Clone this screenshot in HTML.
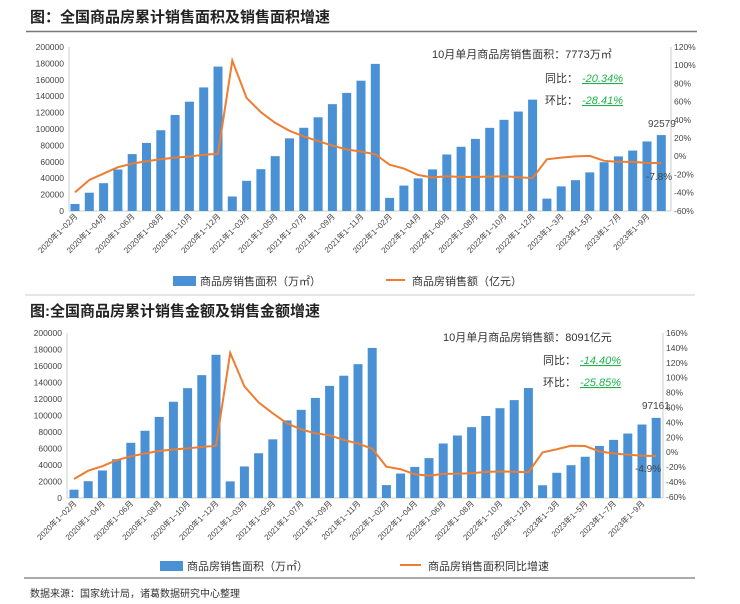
<!DOCTYPE html>
<html><head><meta charset="utf-8"><style>
body{margin:0;background:#fff;}
svg{display:block;font-family:"Liberation Sans","Noto Sans CJK SC",sans-serif;}
.t{font-size:8.5px;fill:#444;}
.xl{font-size:8px;fill:#444;}
.ti{font-size:15px;font-weight:bold;fill:#222;}
.an{font-size:11px;fill:#333;}
.gr{font-size:11px;fill:#1db34a;font-style:italic;}
.lg{font-size:11px;fill:#333;}
</style></head><body>
<svg id="s" width="740" height="604" viewBox="0 0 740 604">
<rect width="740" height="604" fill="#fff"/>
<text class="ti" x="30" y="22">图：全国商品房累计销售面积及销售面积增速</text>
<line x1="26" y1="31.5" x2="697" y2="31.5" stroke="#777" stroke-width="1.5"/>
<line x1="25" y1="295" x2="695" y2="295" stroke="#ccc" stroke-width="1"/>
<text class="ti" x="30" y="316">图:全国商品房累计销售金额及销售金额增速</text>
<line x1="24" y1="578" x2="695" y2="578" stroke="#777" stroke-width="1.2"/>
<text x="30" y="597" style="font-size:10px;fill:#333">数据来源：国家统计局，诸葛数据研究中心整理</text>

<line x1="69" y1="47" x2="69" y2="211" stroke="#ccc"/>
<line x1="69" y1="211" x2="671" y2="211" stroke="#ccc"/>
<line x1="671" y1="47" x2="671" y2="211" stroke="#ccc"/>
<g class="t" text-anchor="end">
<text x="64" y="50">200000</text><text x="64" y="66.4">180000</text><text x="64" y="82.8">160000</text><text x="64" y="99.2">140000</text><text x="64" y="115.6">120000</text><text x="64" y="132">100000</text><text x="64" y="148.4">80000</text><text x="64" y="164.8">60000</text><text x="64" y="181.2">40000</text><text x="64" y="197.6">20000</text><text x="64" y="214">0</text>
</g>
<g class="t">
<text x="674" y="50">120%</text><text x="674" y="68.2">100%</text><text x="674" y="86.4">80%</text><text x="674" y="104.6">60%</text><text x="674" y="122.8">40%</text><text x="674" y="141">20%</text><text x="674" y="159.2">0%</text><text x="674" y="177.4">-20%</text><text x="674" y="195.6">-40%</text><text x="674" y="213.8">-60%</text>
</g>
<g id="b1"></g>
<g class="xl" text-anchor="end">
<text transform="translate(78,217) rotate(-45)">2020年1~02月</text>
<text transform="translate(106.6,217) rotate(-45)">2020年1~04月</text>
<text transform="translate(135.2,217) rotate(-45)">2020年1~06月</text>
<text transform="translate(163.8,217) rotate(-45)">2020年1~08月</text>
<text transform="translate(192.4,217) rotate(-45)">2020年1~10月</text>
<text transform="translate(221,217) rotate(-45)">2020年1~12月</text>
<text transform="translate(249.6,217) rotate(-45)">2021年1~03月</text>
<text transform="translate(278.2,217) rotate(-45)">2021年1~05月</text>
<text transform="translate(306.8,217) rotate(-45)">2021年1~07月</text>
<text transform="translate(335.4,217) rotate(-45)">2021年1~09月</text>
<text transform="translate(364,217) rotate(-45)">2021年1~11月</text>
<text transform="translate(392.6,217) rotate(-45)">2022年1~02月</text>
<text transform="translate(421.2,217) rotate(-45)">2022年1~04月</text>
<text transform="translate(449.8,217) rotate(-45)">2022年1~06月</text>
<text transform="translate(478.4,217) rotate(-45)">2022年1~08月</text>
<text transform="translate(507,217) rotate(-45)">2022年1~10月</text>
<text transform="translate(535.6,217) rotate(-45)">2022年1~12月</text>
<text transform="translate(564.2,217) rotate(-45)">2023年1~3月</text>
<text transform="translate(592.8,217) rotate(-45)">2023年1~5月</text>
<text transform="translate(621.4,217) rotate(-45)">2023年1~7月</text>
<text transform="translate(650,217) rotate(-45)">2023年1~9月</text>
</g>
<text class="an" x="432" y="58">10月单月商品房销售面积：7773万㎡</text>
<text class="an" x="545" y="82">同比：</text>
<text class="gr" x="582" y="82" text-decoration="underline">-20.34%</text>
<text class="an" x="545" y="104">环比：</text>
<text class="gr" x="582" y="104" text-decoration="underline">-28.41%</text>
<text class="t" x="648" y="127" style="font-size:10px">92579</text>
<text class="t" x="646" y="180" style="font-size:10px">-7.8%</text>
<rect x="173" y="276" width="23" height="10" fill="#4a90d4"/>
<text class="lg" x="200" y="285">商品房销售面积（万㎡）</text>
<line x1="386" y1="280" x2="405" y2="280" stroke="#ed7d31" stroke-width="2"/>
<text class="lg" x="412" y="285">商品房销售额（亿元）</text>

<line x1="67" y1="333" x2="67" y2="498" stroke="#ccc"/>
<line x1="67" y1="498" x2="663" y2="498" stroke="#ccc"/>
<line x1="663" y1="333" x2="663" y2="498" stroke="#ccc"/>
<g class="t" text-anchor="end">
<text x="62" y="336">200000</text><text x="62" y="352.5">180000</text><text x="62" y="369">160000</text><text x="62" y="385.5">140000</text><text x="62" y="402">120000</text><text x="62" y="418.5">100000</text><text x="62" y="435">80000</text><text x="62" y="451.5">60000</text><text x="62" y="468">40000</text><text x="62" y="484.5">20000</text><text x="62" y="501">0</text>
</g>
<g class="t">
<text x="666" y="336">160%</text><text x="666" y="350.9">140%</text><text x="666" y="365.8">120%</text><text x="666" y="380.7">100%</text><text x="666" y="395.6">80%</text><text x="666" y="410.5">60%</text><text x="666" y="425.4">40%</text><text x="666" y="440.3">20%</text><text x="666" y="455.2">0%</text><text x="666" y="470.1">-20%</text><text x="666" y="485">-40%</text><text x="666" y="499.9">-60%</text>
</g>
<g id="b2"></g>
<g class="xl" text-anchor="end">
<text transform="translate(77,504) rotate(-45)">2020年1~02月</text>
<text transform="translate(105.4,504) rotate(-45)">2020年1~04月</text>
<text transform="translate(133.8,504) rotate(-45)">2020年1~06月</text>
<text transform="translate(162.2,504) rotate(-45)">2020年1~08月</text>
<text transform="translate(190.6,504) rotate(-45)">2020年1~10月</text>
<text transform="translate(219,504) rotate(-45)">2020年1~12月</text>
<text transform="translate(247.4,504) rotate(-45)">2021年1~03月</text>
<text transform="translate(275.8,504) rotate(-45)">2021年1~05月</text>
<text transform="translate(304.2,504) rotate(-45)">2021年1~07月</text>
<text transform="translate(332.6,504) rotate(-45)">2021年1~09月</text>
<text transform="translate(361,504) rotate(-45)">2021年1~11月</text>
<text transform="translate(389.4,504) rotate(-45)">2022年1~02月</text>
<text transform="translate(417.8,504) rotate(-45)">2022年1~04月</text>
<text transform="translate(446.2,504) rotate(-45)">2022年1~06月</text>
<text transform="translate(474.6,504) rotate(-45)">2022年1~08月</text>
<text transform="translate(503,504) rotate(-45)">2022年1~10月</text>
<text transform="translate(531.4,504) rotate(-45)">2022年1~12月</text>
<text transform="translate(559.8,504) rotate(-45)">2023年1~3月</text>
<text transform="translate(588.2,504) rotate(-45)">2023年1~5月</text>
<text transform="translate(616.6,504) rotate(-45)">2023年1~7月</text>
<text transform="translate(645,504) rotate(-45)">2023年1~9月</text>
</g>
<text class="an" x="443" y="341">10月单月商品房销售额：8091亿元</text>
<text class="an" x="543" y="364">同比：</text>
<text class="gr" x="580" y="364" text-decoration="underline">-14.40%</text>
<text class="an" x="543" y="386">环比：</text>
<text class="gr" x="580" y="386" text-decoration="underline">-25.85%</text>
<text class="t" x="642" y="409" style="font-size:10px">97161</text>
<text class="t" x="635" y="472" style="font-size:10px">-4.9%</text>
<rect x="160" y="561" width="23" height="10" fill="#4a90d4"/>
<text class="lg" x="187" y="570">商品房销售面积（万㎡）</text>
<line x1="400" y1="565" x2="421" y2="565" stroke="#ed7d31" stroke-width="2"/>
<text class="lg" x="428" y="570">商品房销售面积同比增速</text>
</svg>
<script>
function draw(id,bars,line,x0,dx,base,k,zero,kp){
 var g=document.getElementById(id),s="";
 for(var i=0;i<bars.length;i++){var h=bars[i]*k,x=x0+dx*i;
  s+='<rect x="'+(x-4.5)+'" y="'+(base-h)+'" width="9" height="'+h+'" fill="#4a90d4"/>';}
 var p=[];for(i=0;i<line.length;i++)p.push((x0+dx*i)+","+(zero-line[i]*kp));
 s+='<polyline points="'+p.join(" ")+'" fill="none" stroke="#ed7d31" stroke-width="2"/>';
 g.innerHTML=s;}
var a1=[8600,22300,33900,50600,69400,83000,98500,117100,133300,150700,176100,17700,36800,51000,66900,88600,101500,114300,130300,144000,158900,179400,16000,31000,39800,50700,68900,78300,87900,101400,111200,121300,135800,15100,30000,37600,47100,59500,66600,73700,84800,92600];
var l1=[-39.9,-26.3,-19.3,-12.3,-8.4,-5.8,-3.6,-1.8,-0.5,1.3,2.6,104.9,63.8,48.1,36.4,27.7,21.5,16.4,11.3,7.3,4.8,1.9,-9.6,-13.8,-20.9,-23.6,-22.2,-23.1,-22.9,-22.6,-22.3,-23.3,-24.3,-3.6,-1.8,-0.4,0.1,-5.3,-6.5,-6.5,-7.5,-7.8];
var a2=[10094,20365,33348,46975,66895,81499,98271,116647,133138,148903,173613,20151,38232,54237,71096,94075,106861,121309,135901,148212,162228,181930,15652,29655,37710,48337,66072,75763,85870,99380,108832,118648,133308,15449,30545,39750,49997,63092,70450,78158,89070,97161];
var l2=[-35.9,-24.7,-18.6,-10.6,-5.4,-1.6,1.7,3.7,5.3,7.2,8.7,133.4,88.5,67.0,52.4,38.9,30.7,25.5,22.8,16.6,11.8,4.8,-19.3,-22.7,-29.5,-31.5,-28.9,-28.8,-28.1,-26.3,-25.7,-26.1,-26.7,-0.1,4.1,8.8,8.4,1.1,-1.5,-3.2,-4.6,-4.9];
draw("b1",a1,l1,75,14.3,211,0.00082,156,0.91);
draw("b2",a2,l2,74,14.2,498,0.000825,452.3,0.745);
</script>
</body></html>
